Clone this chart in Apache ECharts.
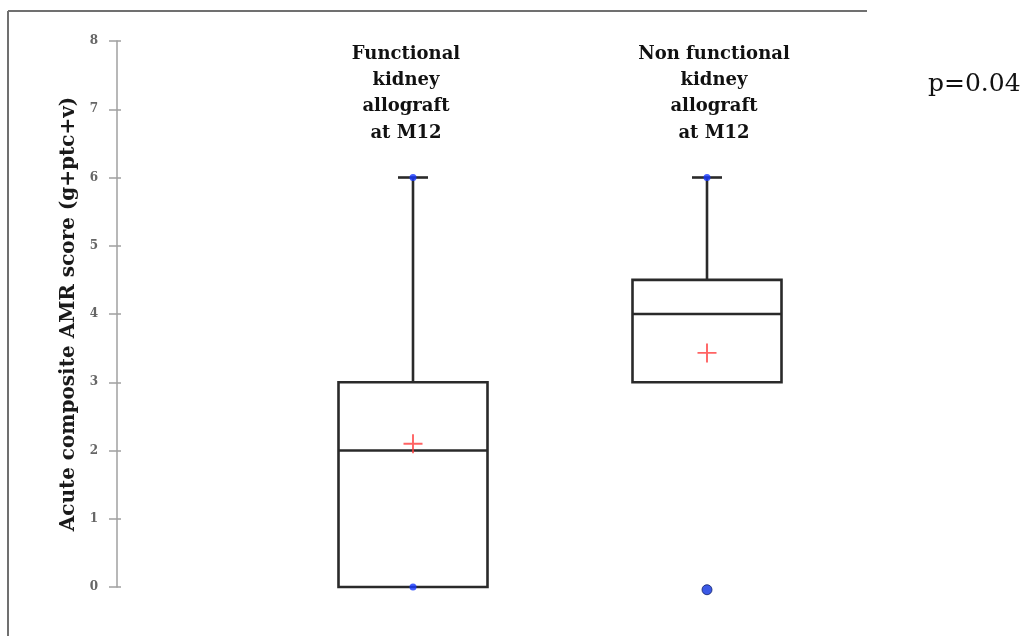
<!DOCTYPE html>
<html>
<head>
<meta charset="utf-8">
<script src="https://cdn.jsdelivr.net/npm/echarts@6/dist/echarts.min.js"></script>
<style>html,body{margin:0;padding:0;background:#fff;}#c{width:1026px;height:636px;}</style>
</head>
<body>
<div id="c"></div>
<script>
var categories = ['Functional\nkidney\nallograft\nat M12', 'Non functional\nkidney\nallograft\nat M12'];
var whiskerLow = [0, 3];
var q1 = [0, 3];
var median = [2, 4];
var q3 = [3, 4.5];
var whiskerHigh = [6, 6];
var means = [2.1, 3.43];
var extremeDots = [[0, 6], [0, 0], [1, 6]];
var outliers = [[1, -0.04]];
var yMin = 0, yMax = 8, yStep = 1;
var pText = 'p=0.04';

var boxData = categories.map(function (c, i) {
  return [i, whiskerLow[i], q1[i], median[i], q3[i], whiskerHigh[i]];
});
var meanData = means.map(function (m, i) { return [i, m]; });

var BOX_W = 149, CAP_W = 30, STROKE = '#2a2a2a', LW = 2.6;
var serif = '"DejaVu Serif", "Liberation Serif", serif';
var labStyle = { fontFamily: serif, fontWeight: 'bold', fontSize: 18, lineHeight: 26.3, color: '#111', align: 'center' };

var chart = echarts.init(document.getElementById('c'));
chart.setOption({
  animation: false,
  backgroundColor: '#fff',
  grid: { left: 266, right: 172, top: 41, bottom: 49 },
  xAxis: {
    type: 'category',
    position: 'top',
    data: categories,
    axisLine: { show: false },
    axisTick: { show: false },
    splitLine: { show: false },
    axisLabel: {
      inside: true, margin: 0, fontFamily: serif, fontWeight: 'bold',
      fontSize: 18, lineHeight: 26.3, color: '#111',
      formatter: function (v, i) {
        var key = i === 0 ? 'a' : 'b';
        return v.split('\n').map(function (s) { return '{' + key + '|' + s + '}'; }).join('\n');
      },
      rich: {
        a: Object.assign({ padding: [0, 14, 0, 0] }, labStyle),
        b: Object.assign({ padding: [0, 0, 0, 14] }, labStyle)
      }
    }
  },
  yAxis: [{
    type: 'value', min: yMin, max: yMax, interval: yStep, offset: 149,
    name: 'Acute composite AMR score (g+ptc+v)',
    nameLocation: 'middle', nameGap: 38,
    nameTextStyle: { fontFamily: serif, fontWeight: 'bold', fontSize: 20, color: '#1a1a1a' },
    axisLine: { show: true, lineStyle: { color: '#a0a0a0', width: 1.5 } },
    axisTick: { show: true, length: 8, lineStyle: { color: '#a0a0a0', width: 1.5 } },
    axisLabel: { margin: 19, fontFamily: serif, fontSize: 12, fontWeight: 'bold', color: '#666' },
    splitLine: { show: false }
  }, {
    type: 'value', min: yMin, max: yMax, interval: yStep, offset: 149, position: 'left',
    axisLine: { show: false },
    axisTick: { show: true, inside: true, length: 4, lineStyle: { color: '#a0a0a0', width: 1.5 } },
    axisLabel: { show: false },
    splitLine: { show: false }
  }],
  series: [{
    type: 'custom',
    data: boxData,
    renderItem: function (params, api) {
      var i = api.value(0);
      var pLow = api.coord([i, api.value(1)]);
      var pQ1 = api.coord([i, api.value(2)]);
      var pMed = api.coord([i, api.value(3)]);
      var pQ3 = api.coord([i, api.value(4)]);
      var pHigh = api.coord([i, api.value(5)]);
      var x = pQ1[0];
      var st = { stroke: STROKE, lineWidth: LW, fill: null };
      var ch = [
        { type: 'line', shape: { x1: x, y1: pQ3[1], x2: x, y2: pHigh[1] }, style: st },
        { type: 'line', shape: { x1: x - CAP_W / 2, y1: pHigh[1], x2: x + CAP_W / 2, y2: pHigh[1] }, style: st },
        { type: 'rect', shape: { x: x - BOX_W / 2, y: pQ3[1], width: BOX_W, height: pQ1[1] - pQ3[1] }, style: { stroke: STROKE, lineWidth: LW, fill: '#fff' } },
        { type: 'line', shape: { x1: x - BOX_W / 2, y1: pMed[1], x2: x + BOX_W / 2, y2: pMed[1] }, style: st }
      ];
      if (pLow[1] - pQ1[1] > 0.5) {
        ch.push({ type: 'line', shape: { x1: x, y1: pQ1[1], x2: x, y2: pLow[1] }, style: st });
        ch.push({ type: 'line', shape: { x1: x - CAP_W / 2, y1: pLow[1], x2: x + CAP_W / 2, y2: pLow[1] }, style: st });
      }
      return { type: 'group', children: ch };
    },
    z: 2
  }, {
    type: 'scatter',
    data: meanData,
    symbol: 'path://M0,45 L100,45 L100,55 L0,55 Z M45,0 L55,0 L55,100 L45,100 Z',
    symbolSize: 19,
    itemStyle: { color: '#ff3c3c' },
    z: 5
  }, {
    type: 'scatter',
    data: extremeDots,
    symbol: 'circle',
    symbolSize: 7,
    itemStyle: { color: '#1638ff' },
    z: 5
  }, {
    type: 'scatter',
    data: outliers,
    clip: false,
    symbol: 'circle',
    symbolSize: 10,
    itemStyle: { color: '#0a2fe0', borderColor: '#10206a', borderWidth: 1 },
    z: 5
  }],
  graphic: [
    { type: 'line', shape: { x1: 8, y1: 11, x2: 867, y2: 11 }, style: { stroke: '#707070', lineWidth: 2 } },
    { type: 'line', shape: { x1: 8, y1: 11, x2: 8, y2: 636 }, style: { stroke: '#707070', lineWidth: 2 } },
    { type: 'text', left: 928, top: 72, style: { text: pText, font: '25px "DejaVu Serif", serif', fill: '#111' } }
  ]
});
</script>
</body>
</html>
